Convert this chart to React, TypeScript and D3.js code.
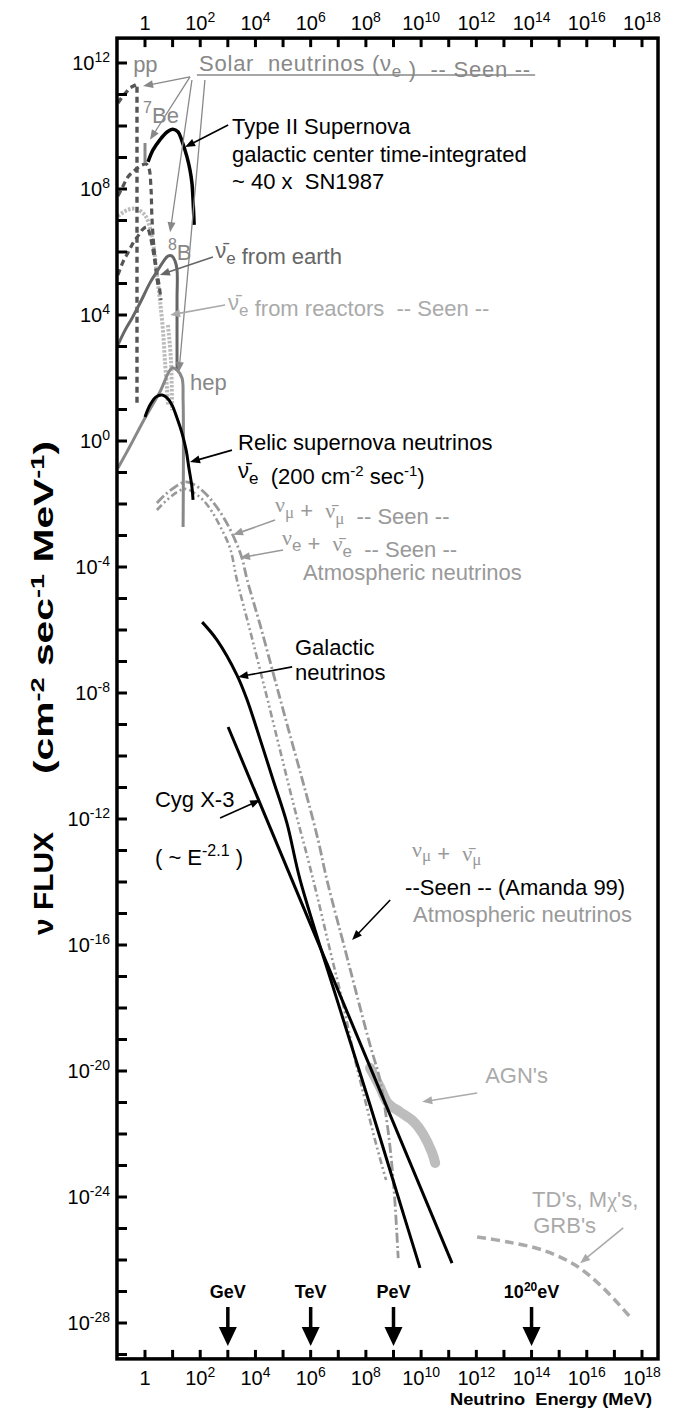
import React from 'react';
import * as d3 from 'd3';

type Pt = [number, number]; // [log10(E / MeV), log10(flux)]

// ---------- axes ----------
const xTickExps = d3.range(0, 19);
const xLabelExps = [0, 2, 4, 6, 8, 10, 12, 14, 16, 18];
const yTickExps = d3.range(-29, 13);
const yLabelExps = [12, 8, 4, 0, -4, -8, -12, -16, -20, -24, -28];

// ---------- series (log10 E, log10 flux) ----------
const typeIISupernova: Pt[] = [[0.11, 8.86], [0.29, 9.24], [0.54, 9.56], [0.8, 9.81], [1.01, 9.9], [1.2, 9.81], [1.34, 9.52], [1.52, 9.02], [1.63, 8.6], [1.7, 8.19], [1.74, 7.65], [1.78, 6.86]];
const solarPP: Pt[] = [[-0.98, 10.73], [-0.83, 10.92], [-0.54, 11.21], [-0.29, 11.33], [-0.29, 1.14]];
const solarBe7: Pt[] = [[0.0, 9.46], [0.0, 8.83]];
const solarCNOUpper: Pt[] = [[-0.98, 7.78], [-0.83, 8.03], [-0.62, 8.38], [-0.36, 8.6], [-0.11, 8.76], [0.04, 8.79], [0.14, 8.67], [0.22, 7.97], [0.25, 7.11], [0.33, 6.06], [0.4, 5.43], [0.47, 4.95]];
const solarCNOLower: Pt[] = [[-0.98, 5.27], [-0.8, 5.68], [-0.62, 5.97], [-0.43, 6.29], [-0.25, 6.51], [-0.07, 6.73], [0.07, 6.79], [0.18, 6.54], [0.29, 6.06], [0.4, 5.49], [0.51, 4.95], [0.58, 4.48]];
const earthAntinu: Pt[] = [[-0.98, 3.05], [-0.72, 3.52], [-0.47, 3.9], [-0.18, 4.38], [0.18, 5.02], [0.47, 5.43], [0.65, 5.68], [0.83, 5.87], [0.98, 5.87], [1.09, 5.71], [1.16, 5.43], [1.16, 4.48], [1.16, 2.25]];
const solarHep: Pt[] = [[-0.98, -0.86], [-0.54, -0.16], [0.0, 0.73], [0.54, 1.56], [0.98, 2.32], [1.16, 2.25], [1.34, 2.0], [1.38, 1.3], [1.38, -2.73]];
const relicSupernova: Pt[] = [[0.0, 0.76], [0.18, 1.14], [0.4, 1.4], [0.62, 1.46], [0.8, 1.37], [0.98, 1.14], [1.16, 0.73], [1.34, 0.25], [1.49, -0.29], [1.59, -0.86], [1.7, -1.46], [1.74, -1.87]];
const reactorAntinu: Pt[] = [[-0.98, 7.14], [-0.65, 7.33], [-0.33, 7.37], [0.0, 7.17], [0.18, 6.76], [0.33, 6.06], [0.43, 5.27], [0.54, 4.48], [0.65, 3.52], [0.72, 2.57], [0.8, 1.62], [0.83, 1.14]];
const reactorTail: Pt[] = [[0.83, 3.68], [0.94, 2.57], [0.98, 0.98]];
const atmNuMu: Pt[] = [[0.43, -1.97], [0.72, -1.71], [1.09, -1.46], [1.45, -1.3], [1.81, -1.4], [2.17, -1.65], [2.54, -2.03], [2.9, -2.51], [3.26, -3.14], [3.51, -3.71], [3.7, -4.41], [4.17, -5.84], [4.71, -7.59], [5.25, -9.33], [5.8, -11.08], [6.27, -12.67], [6.59, -13.94], [7.25, -16.16], [7.72, -17.75], [8.15, -19.17], [8.51, -20.29], [8.8, -21.87], [9.02, -23.78], [9.17, -25.94]];
const atmNuE: Pt[] = [[0.43, -2.19], [0.8, -1.87], [1.16, -1.62], [1.45, -1.52], [1.74, -1.62], [2.1, -1.87], [2.43, -2.25], [2.75, -2.76], [3.08, -3.4], [3.33, -4.41], [3.8, -6.0], [4.35, -7.9], [4.89, -9.81], [5.43, -11.71], [5.91, -13.3], [6.27, -14.57], [6.7, -16.16], [7.14, -17.75], [7.61, -19.65], [7.97, -20.92], [8.33, -22.19], [8.73, -23.46]];
const galacticNu: Pt[] = [[2.07, -5.75], [2.61, -6.32], [3.33, -7.43], [3.7, -8.22], [4.06, -9.17], [4.64, -10.76], [5.14, -12.13], [5.62, -13.94], [7.07, -18.06], [8.15, -21.08], [9.17, -24.0], [9.96, -26.25]];
const cygX3: Pt[] = [[3.01, -9.08], [11.12, -26.1]];
const agnBand: Pt[] = [[8.15, -19.9], [8.51, -20.51], [8.8, -21.02], [9.24, -21.3], [9.71, -21.59], [10.07, -22.0], [10.4, -22.6], [10.51, -22.92]];
const tdGrb: Pt[] = [[12.03, -25.27], [13.15, -25.43], [14.38, -25.68], [15.58, -26.16], [16.56, -26.86], [17.57, -27.81]];

const energyMarkers = [
  { name: 'GeV', exp: 3 },
  { name: 'TeV', exp: 6 },
  { name: 'PeV', exp: 9 },
  { name: '1020', exp: 14 },
];

// ---------- layout ----------
const W = 675;
const H = 1410;
const FONT = "'Liberation Sans', Arial, Helvetica, sans-serif";
const SERIF = "'Liberation Serif', 'Times New Roman', serif";

const x = d3.scaleLog().domain([1, 1e18]).range([145, 642]);
const y = d3.scaleLog().domain([1e12, 1e-28]).range([63, 1323]);
const X = (le: number) => x(Math.pow(10, le));
const Y = (lf: number) => y(Math.pow(10, lf));

const frame = { left: X(-1.015), right: X(18.58), top: Y(12.79), bottom: Y(-29.14) };

const smooth = d3.line<Pt>().x(d => X(d[0])).y(d => Y(d[1])).curve(d3.curveCatmullRom.alpha(0.5));
const straight = d3.line<Pt>().x(d => X(d[0])).y(d => Y(d[1]));

function Arrow({ from, to, color, width = 1.6, head = 10, half = 4 }: { from: Pt; to: Pt; color: string; width?: number; head?: number; half?: number }) {
  const x1 = X(from[0]), y1 = Y(from[1]);
  const x2 = X(to[0]), y2 = Y(to[1]);
  const a = Math.atan2(y2 - y1, x2 - x1);
  const bx = x2 - head * Math.cos(a), by = y2 - head * Math.sin(a);
  const px = -Math.sin(a) * half, py = Math.cos(a) * half;
  return (
    <g>
      <line x1={x1} y1={y1} x2={bx + Math.cos(a)} y2={by + Math.sin(a)} stroke={color} strokeWidth={width} />
      <polygon points={`${x2},${y2} ${bx + px},${by + py} ${bx - px},${by - py}`} fill={color} />
    </g>
  );
}

function Label({ at, fill = '#000', size = 22, weight, anchor = 'start', length, children }: any) {
  return (
    <text x={X(at[0])} y={Y(at[1])} fill={fill} fontSize={size} fontWeight={weight} textAnchor={anchor} fontFamily={FONT}
      textLength={length} lengthAdjust={length ? 'spacing' : undefined} style={{ whiteSpace: 'pre' }}>
      {children}
    </text>
  );
}

const Sub = ({ t, serif = false, size = 17, d = 6 }: { t: string; serif?: boolean; size?: number; d?: number }) => (
  <>
    <tspan dy={d} fontSize={size} fontFamily={serif ? SERIF : undefined}>{t}</tspan>
    <tspan dy={-d}>{''}</tspan>
  </>
);

export default function App() {
  const curve = (d: Pt[], stroke: string, w: number, dash?: string, s = true, cap = 'butt') => (
    <path d={(s ? smooth : straight)(d) || ''} fill="none" stroke={stroke} strokeWidth={w} strokeDasharray={dash} strokeLinecap={cap as any} strokeLinejoin="round" />
  );

  return (
    <svg width={W} height={H} viewBox={`0 0 ${W} ${H}`} style={{ position: 'absolute', left: 0, top: 0, background: '#fff', display: 'block' }} fontFamily={FONT}>
      <rect x={0} y={0} width={W} height={H} fill="#fff" />

      {/* ---- high energy ---- */}
      {curve(agnBand, '#bdbdbd', 10, undefined, true, 'round')}
      {curve(atmNuE, '#999', 2.6, '7,3,2,3,2,3')}
      {curve(atmNuMu, '#999', 2.8, '10,3,2,3')}
      {curve(galacticNu, '#000', 3)}
      {curve(cygX3, '#000', 3, undefined, false)}
      {curve(tdGrb, '#aaa', 3.5, '9,5')}

      {/* ---- low energy ---- */}
      {curve(reactorAntinu, '#bbb', 4, '2.5,1.5')}
      {curve(reactorTail, '#bbb', 4, '2.5,1.5')}
      {curve(solarCNOUpper, '#555', 3.2, '6,4')}
      {curve(solarCNOLower, '#555', 3.2, '6,4')}
      {curve(solarPP, '#555', 3.4, '6,4', false)}
      {curve(solarBe7, '#888', 3, undefined, false)}
      {curve(earthAntinu, '#666', 3)}
      {curve(solarHep, '#888', 3)}
      {curve(relicSupernova, '#000', 3)}
      {curve(typeIISupernova, '#000', 3.5)}

      {/* ---- frame & ticks ---- */}
      <rect x={frame.left} y={frame.top} width={frame.right - frame.left} height={frame.bottom - frame.top} fill="none" stroke="#000" strokeWidth={3.5} />
      {yTickExps.map(e => (
        <line key={'yt' + e} x1={frame.left} x2={frame.left + 10} y1={Y(e)} y2={Y(e)} stroke="#000" strokeWidth={3} />
      ))}
      {xTickExps.map(e => (
        <g key={'xt' + e}>
          <line x1={X(e)} x2={X(e)} y1={frame.bottom} y2={frame.bottom - 9} stroke="#000" strokeWidth={3} />
          <line x1={X(e)} x2={X(e)} y1={frame.top} y2={frame.top + 9} stroke="#000" strokeWidth={3} />
        </g>
      ))}
      {yLabelExps.map(e => (
        <text key={'yl' + e} x={110} y={Y(e) + 7} textAnchor="end" fontSize={20} fill="#000">
          10<tspan dy={-8} fontSize={14}>{String(e)}</tspan>
        </text>
      ))}
      {xLabelExps.map(e => (
        <g key={'xl' + e}>
          {[frame.bottom + 26, frame.top - 8].map((yy, i) => (
            <text key={i} x={X(e)} y={yy} textAnchor="middle" fontSize={20} fill="#000">
              {e === 0 ? '1' : <>10<tspan dy={-8} fontSize={14}>{String(e)}</tspan></>}
            </text>
          ))}
        </g>
      ))}
      <text x={652} y={1405} textAnchor="end" fontSize={17} fontWeight="bold" textLength={202} lengthAdjust="spacingAndGlyphs" style={{ whiteSpace: 'pre' }}>
        {'Neutrino  Energy (MeV)'}
      </text>

      {/* y title */}
      <text transform="translate(53,935) rotate(-90)" fontSize={27} fontWeight="bold" fontFamily="'Liberation Sans Narrow', 'Liberation Sans', sans-serif" textLength={103} lengthAdjust="spacingAndGlyphs" style={{ whiteSpace: 'pre' }}>
        {'ν FLUX'}
      </text>
      <text transform="translate(53,774) rotate(-90)" fontSize={27} fontWeight="bold" fontFamily="'Liberation Sans Narrow', 'Liberation Sans', sans-serif" textLength={333} lengthAdjust="spacingAndGlyphs" style={{ whiteSpace: 'pre' }}>
        (cm<tspan dy={-9} fontSize={18}>-2</tspan><tspan dy={9}>{' sec'}</tspan><tspan dy={-9} fontSize={18}>-1</tspan><tspan dy={9}>{' MeV'}</tspan><tspan dy={-9} fontSize={18}>-1</tspan><tspan dy={9}>)</tspan>
      </text>

      {/* energy markers */}
      {energyMarkers.map(m => {
        const cx = X(m.exp);
        return (
          <g key={m.name}>
            <text x={cx} y={1298} textAnchor="middle" fontSize={18} fontWeight="bold">
              {m.name === '1020' ? <>10<tspan dy={-7} fontSize={12}>20</tspan><tspan dy={7}>eV</tspan></> : m.name}
            </text>
            <line x1={cx} x2={cx} y1={1307} y2={1330} stroke="#000" strokeWidth={3.5} />
            <polygon points={`${cx},${1346} ${cx - 9},${1327} ${cx + 9},${1327}`} fill="#000" />
          </g>
        );
      })}

      {/* ---- solar annotations ---- */}
      <line x1={X(1.88)} x2={X(14.13)} y1={Y(11.62)} y2={Y(11.62)} stroke="#888" strokeWidth={1.6} />
      <Label at={[1.96, 11.75]} fill="#888" length={331}>
        {'Solar  neutrinos (ν'}<Sub t="e" />{' )  -- Seen --'}
      </Label>
      <Label at={[-0.43, 11.71]} fill="#888">pp</Label>
      <Label at={[-0.07, 10.1]} fill="#888"><tspan fontSize={16} dy={-10}>7</tspan><tspan dy={10}>Be</tspan></Label>
      <Label at={[0.83, 5.75]} fill="#888"><tspan fontSize={16} dy={-10}>8</tspan><tspan dy={10}>B</tspan></Label>
      <Label at={[1.63, 1.62]} fill="#888">hep</Label>
      <Arrow from={[1.63, 11.56]} to={[-0.07, 11.27]} color="#888" width={1.3} />
      <Arrow from={[1.63, 11.56]} to={[0.18, 9.56]} color="#888" width={1.3} />
      <Arrow from={[1.7, 11.46]} to={[0.91, 6.63]} color="#888" width={1.3} />
      <Arrow from={[2.17, 11.46]} to={[1.23, 2.19]} color="#888" width={1.3} />

      {/* supernova */}
      <Label at={[3.15, 9.75]}>Type II Supernova</Label>
      <Label at={[3.15, 8.86]}>galactic center time-integrated</Label>
      <Label at={[3.15, 8.0]}>{'~ 40 x  SN1987'}</Label>
      <Arrow from={[3.01, 10.03]} to={[1.45, 9.33]} color="#000" />

      <Label at={[2.54, 5.81]} fill="#666">{'ν\u0304'}<Sub t="e" />{' from earth'}</Label>
      <Arrow from={[2.46, 5.84]} to={[0.54, 5.27]} color="#666" />
      <Label at={[3.01, 4.16]} fill="#aaa">{'ν\u0304'}<Sub t="e" />{' from reactors  -- Seen --'}</Label>
      <Arrow from={[2.9, 4.32]} to={[0.91, 4.0]} color="#aaa" />

      <Label at={[3.37, -0.29]}>Relic supernova neutrinos</Label>
      <Label at={[3.37, -1.17]}>
        {'ν\u0304'}<Sub t="e" />{'  (200 cm'}<tspan dy={-8} fontSize={15}>-2</tspan><tspan dy={8}>{' sec'}</tspan><tspan dy={-8} fontSize={15}>-1</tspan><tspan dy={8}>)</tspan>
      </Label>
      <Arrow from={[3.15, -0.29]} to={[1.63, -0.67]} color="#000" />

      {/* atmospheric */}
      <Label at={[4.71, -2.25]} fill="#999">
        <tspan fontFamily={SERIF}>ν</tspan><Sub t="μ" serif />{' +  '}<tspan fontFamily={SERIF}>{'ν\u0304'}</tspan><Sub t="μ" serif />{'  -- Seen --'}
      </Label>
      <Label at={[4.96, -3.3]} fill="#999">
        <tspan fontFamily={SERIF}>ν</tspan><Sub t="e" />{' +  '}<tspan fontFamily={SERIF}>{'ν\u0304'}</tspan><Sub t="e" />{'  -- Seen --'}
      </Label>
      <Label at={[5.72, -4.41]} fill="#999">Atmospheric neutrinos</Label>
      <Arrow from={[4.71, -2.51]} to={[3.19, -2.98]} color="#999" />
      <Arrow from={[5.0, -3.46]} to={[3.44, -3.71]} color="#999" />

      <Label at={[5.43, -6.79]}>Galactic</Label>
      <Label at={[5.43, -7.59]}>neutrinos</Label>
      <Arrow from={[5.33, -7.17]} to={[3.37, -7.49]} color="#000" />

      <Label at={[0.36, -11.62]}>Cyg X-3</Label>
      <Label at={[0.36, -13.46]}>{'( ~ E'}<tspan dy={-9} fontSize={16}>-2.1</tspan><tspan dy={9}>{' )'}</tspan></Label>
      <Arrow from={[2.72, -11.97]} to={[4.17, -11.4]} color="#000" />

      <Label at={[9.67, -13.2]} fill="#999">
        <tspan fontFamily={SERIF}>ν</tspan><Sub t="μ" serif d={4} />{' +  '}<tspan fontFamily={SERIF}>{'ν\u0304'}</tspan><Sub t="μ" serif d={4} />
      </Label>
      <Label at={[9.42, -14.42]}>{'--Seen -- (Amanda 99)'}</Label>
      <Label at={[9.71, -15.27]} fill="#999">Atmospheric neutrinos</Label>
      <Arrow from={[8.88, -14.57]} to={[7.5, -15.84]} color="#000" />

      <Label at={[12.32, -20.38]} fill="#aaa">AGN's</Label>
      <Arrow from={[12.03, -20.7]} to={[10.04, -20.98]} color="#aaa" />

      <Label at={[14.02, -24.32]} fill="#aaa">{"TD's, M"}<tspan fontFamily={SERIF}>χ</tspan>{"'s,"}</Label>
      <Label at={[14.06, -25.14]} fill="#aaa">GRB's</Label>
      <Arrow from={[17.32, -24.98]} to={[15.76, -26.1]} color="#aaa" />
    </svg>
  );
}
